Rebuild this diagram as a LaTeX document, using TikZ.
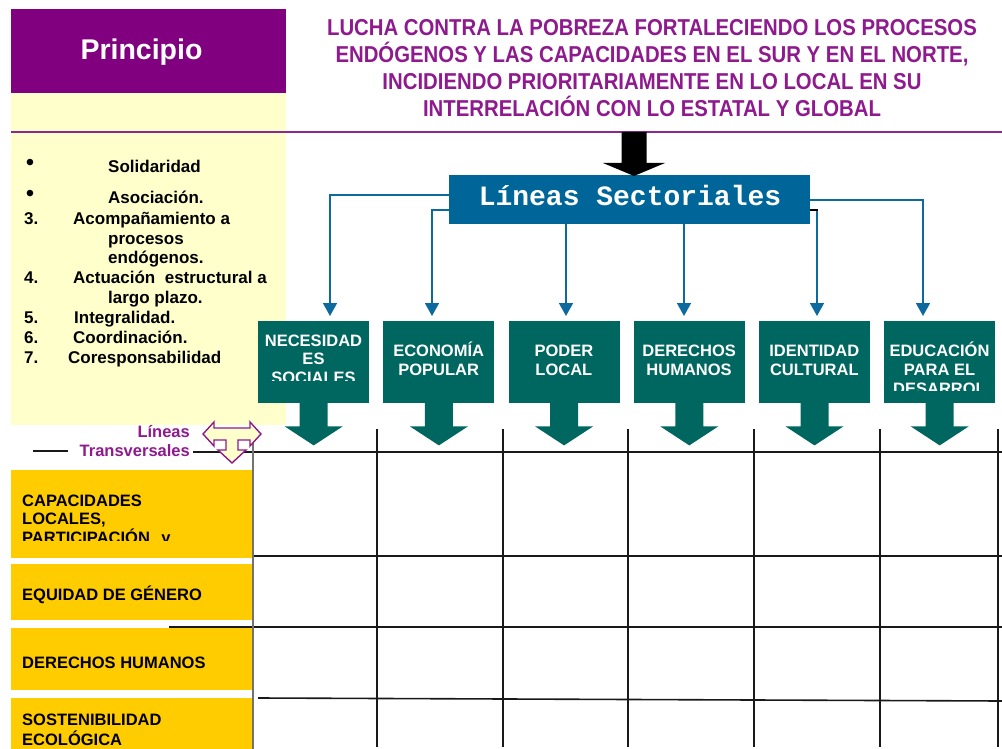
\documentclass[tikz,border=0pt]{standalone}
\usepackage{fontspec}
\setmainfont{Liberation Sans}
\newfontfamily\titlefont[FakeStretch=0.885]{Liberation Sans}
\newfontfamily\lsmono{Liberation Mono}
\usetikzlibrary{arrows.meta,calc}
\definecolor{pboxc}{RGB}{128,0,128}
\definecolor{ptext}{RGB}{142,26,142}
\definecolor{pline}{RGB}{140,40,145}
\definecolor{lyel}{RGB}{255,255,204}
\definecolor{tealc}{RGB}{0,102,96}
\definecolor{bluebox}{RGB}{0,102,153}
\definecolor{bluec}{RGB}{12,106,158}
\definecolor{gold}{RGB}{255,204,0}
\begin{document}
\begin{tikzpicture}[x=1pt,y=-1pt,
  box/.style={draw=none,inner sep=0,anchor=north west},
  wtext/.style={text=white,font=\bfseries\fontsize{16.5}{19}\selectfont,inner sep=0,anchor=base},
  btext/.style={text=black,font=\bfseries\fontsize{16.5}{19}\selectfont,inner sep=0,anchor=base west},
  ltext/.style={text=black,font=\bfseries\fontsize{17}{19}\selectfont,inner sep=0,anchor=base west},
  bullet/.style={text=black,font=\fontsize{24}{26}\selectfont,inner sep=0,anchor=base},
  ptxt/.style={text=ptext,font=\bfseries\fontsize{16.5}{19}\selectfont,inner sep=0,anchor=base east},
  ttext/.style={text=ptext,font=\titlefont\bfseries\fontsize{23}{27}\selectfont,inner sep=0,anchor=base},
  conn/.style={draw=bluec,line width=1.6pt,-{Triangle[length=13pt,width=14pt]},shorten >=5pt},
  gridline/.style={draw=black!90,line width=1.6pt},
]
\useasboundingbox (0,0) rectangle (1002,749);

% left panels
\node[box,fill=lyel,minimum width=275pt,minimum height=332pt] (panel) at (11,93) {};
\node[box,fill=pboxc,minimum width=275pt,minimum height=84pt] (pbox) at (11,9) {};
\node[text=white,font=\bfseries\fontsize{28.5}{32}\selectfont,inner sep=0,anchor=base] (ptitle) at (141.5,60) {Principio};
\draw[pline,line width=2.2pt] (11,132) -- (1002,132);

% title
\node[ttext] (t1) at (652,36) {LUCHA CONTRA LA POBREZA FORTALECIENDO LOS PROCESOS};
\node[ttext] (t2) at (652,63) {ENDÓGENOS Y LAS CAPACIDADES EN EL SUR Y EN EL NORTE,};
\node[ttext] (t3) at (652,90) {INCIDIENDO PRIORITARIAMENTE EN LO LOCAL EN SU};
\node[ttext] (t4) at (652,117) {INTERRELACIÓN CON LO ESTATAL Y GLOBAL};

% principles list
\node[bullet] (bu1) at (30,171) {•};
\node[bullet] (bu2) at (30,201) {•};
\node[ltext] (s1) at (108,173) {Solidaridad};
\node[ltext] (s2) at (108,204) {Asociación.};
\node[ltext] (k3) at (24,224) {3.};
\node[ltext] (s3) at (73,224) {Acompañamiento a};
\node[ltext] (s3b) at (108,244) {procesos};
\node[ltext] (s3c) at (108,263) {endógenos.};
\node[ltext] (k4) at (24,283) {4.};
\node[ltext] (s4) at (73,283) {Actuación\ \ estructural a};
\node[ltext] (s4b) at (108,303) {largo plazo.};
\node[ltext] (k5) at (24,323) {5.};
\node[ltext] (s5) at (74,323) {Integralidad.};
\node[ltext] (k6) at (24,343) {6.};
\node[ltext] (s6) at (73,343) {Coordinación.};
\node[ltext] (k7) at (24,363) {7.};
\node[ltext] (s7) at (68,363) {Coresponsabilidad};

% teal boxes with block arrows
\foreach \i/\xl in {1/258,2/383.2,3/508.4,4/633.6,5/758.8,6/884}{
  \node[box,fill=tealc,minimum width=111pt,minimum height=82pt] (n\i) at (\xl,321) {};
  \fill[tealc] ($(n\i.south)+(-14,-1)$) -- ++(0,24) -- ++(-15,0) -- ++(29,19) -- ++(29,-19) -- ++(-15,0) -- ++(0,-24) -- cycle;
}
\begin{scope}
  \clip (258,321) rectangle (369,380);
  \node[wtext] (l1a) at (313.5,346) {NECESIDAD};
  \node[wtext] (l1b) at (313.5,364) {ES};
  \node[wtext] (l1c) at (313.5,383) {SOCIALES};
\end{scope}
\node[wtext] (l2a) at (438.7,356) {ECONOMÍA};
\node[wtext] (l2b) at (438.7,375) {POPULAR};
\node[wtext] (l3a) at (563.9,356) {PODER};
\node[wtext] (l3b) at (563.9,375) {LOCAL};
\node[wtext] (l4a) at (689.1,356) {DERECHOS};
\node[wtext] (l4b) at (689.1,375) {HUMANOS};
\node[wtext] (l5a) at (814.3,356) {IDENTIDAD};
\node[wtext] (l5b) at (814.3,375) {CULTURAL};
\begin{scope}
  \clip (884,321) rectangle (995,390);
  \node[wtext] (l6a) at (939.5,356) {EDUCACIÓN};
  \node[wtext] (l6b) at (939.5,375) {PARA EL};
  \node[wtext] (l6c) at (939.5,394) {DESARROL};
\end{scope}

% Lineas Sectoriales box
\node[box,fill=bluebox,minimum width=361pt,minimum height=49pt] (ls) at (449,175) {};
\node[text=white,font=\lsmono\bfseries\fontsize{28}{30}\selectfont,inner sep=0,anchor=base] (lst) at (630,206) {Líneas Sectoriales};

% black arrow
\fill[black] (621.5,132) -- (646.5,132) -- (646.5,163) -- (665,163) -- (634,176) -- (603,163) -- (621.5,163) -- cycle;

% connectors
\coordinate (a1) at (330,0);
\coordinate (a2) at (432,0);
\coordinate (a3) at (566,0);
\coordinate (a4) at (684,0);
\coordinate (a5) at (817,0);
\coordinate (a6) at (923,0);
\coordinate (h1) at (0,195);
\coordinate (h2) at (0,210);
\coordinate (h5) at (0,210);
\coordinate (h6) at (0,200);
\draw[conn] (ls.west |- h1) -| (n1.north -| a1);
\draw[conn] (ls.west |- h2) -| (n2.north -| a2);
\draw[conn] (ls.south -| a3) -- (n3.north -| a3);
\draw[conn] (ls.south -| a4) -- (n4.north -| a4);
\draw[conn] (ls.east |- h5) -| (n5.north -| a5);
\draw[conn] (ls.east |- h6) -| (n6.north -| a6);
\draw[black,line width=1.2pt] (ls.east |- h5) -- ++(8,0);

% yellow row headers
\node[box,fill=gold,minimum width=242pt,minimum height=88pt] (y1) at (11,470) {};
\node[box,fill=gold,minimum width=242pt,minimum height=56pt] (y2) at (11,564) {};
\node[box,fill=gold,minimum width=242pt,minimum height=62pt] (y3) at (11,628) {};
\node[box,fill=gold,minimum width=242pt,minimum height=52pt] (y4) at (11,698) {};
\begin{scope}
  \clip (11,470) rectangle (253,540);
  \node[btext] (r1a) at (22,506) {CAPACIDADES};
  \node[btext] (r1b) at (22,524) {LOCALES,};
  \node[btext] (r1c) at (22,543) {PARTICIPACIÓN \hspace{7pt}y};
\end{scope}
\node[btext] (r2) at (22,600) {EQUIDAD DE GÉNERO};
\node[btext] (r3) at (22,668) {DERECHOS HUMANOS};
\node[btext] (r4a) at (22,725) {SOSTENIBILIDAD};
\node[btext] (r4b) at (22,745) {ECOLÓGICA};

% grid
\draw[gridline] (193,452) -- (1002,452);
\draw[gridline] (33,451) -- (68,451);
\draw[gridline] (253,556) -- (1002,556);
\draw[gridline] (169,627) -- (1002,627);
\draw[gridline] (258,698) -- (1002,701);
\foreach \x in {377,503,628,754,880,998} \draw[gridline] (\x,429) -- (\x,747);
\draw[black!55,line width=1.2pt] (253,443) -- (253,749);

% transversal lines label and arrow
\node[ptxt] (lt1) at (190,437) {Líneas};
\node[ptxt] (lt2) at (190,456) {Transversales};
\draw[draw=ptext,fill=lyel,line width=1.4pt,line join=miter]
  (203,434) -- (214,422) -- (214,428) -- (250,428) -- (250,422) -- (261,434) -- (250,446) -- (250,440)
  -- (238,440) -- (238,450) -- (246,450) -- (232,463) -- (218,450) -- (226,450) -- (226,440)
  -- (214,440) -- (214,446) -- cycle;
\end{tikzpicture}
\end{document}
